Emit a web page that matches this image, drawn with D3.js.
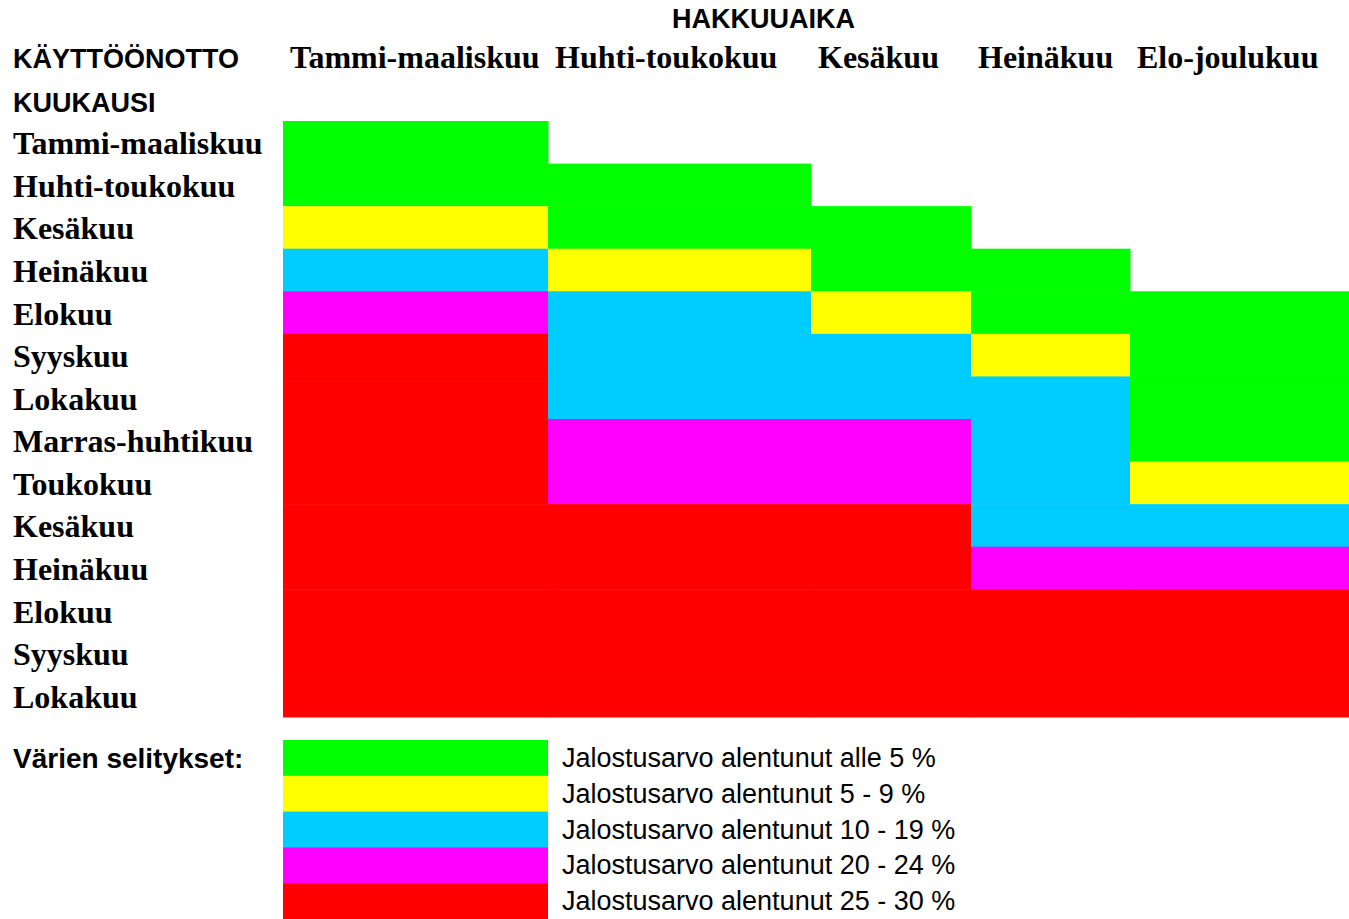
<!DOCTYPE html>
<html>
<head>
<meta charset="utf-8">
<script src="https://cdn.jsdelivr.net/npm/d3@7"></script>
<style>
  body { margin: 0; background: #fff; }
  .head { font-family: "Liberation Sans", Arial, sans-serif; font-weight: bold; font-size: 27px; }
  .lab { font-family: "Liberation Serif", "Times New Roman", serif; font-weight: bold; font-size: 32px; }
  .leg { font-family: "Liberation Sans", Arial, sans-serif; font-size: 27px; }
</style>
</head>
<body>
<div class="chart"></div>
<script>
var width = 1349
var height = 919

// harvest time (columns)
var harvestCols = ["Tammi-maaliskuu", "Huhti-toukokuu", "Kesäkuu", "Heinäkuu", "Elo-joulukuu"];

// deployment month (rows)
var deployRows = ["Tammi-maaliskuu", "Huhti-toukokuu", "Kesäkuu", "Heinäkuu", "Elokuu", "Syyskuu",
  "Lokakuu", "Marras-huhtikuu", "Toukokuu", "Kesäkuu", "Heinäkuu", "Elokuu", "Syyskuu", "Lokakuu"];

// class index per row for each harvest column (null = empty)
var colTammi = [0, 0, 1, 2, 3, 4, 4, 4, 4, 4, 4, 4, 4, 4];
var colHuhti = [null, 0, 0, 1, 2, 2, 2, 3, 3, 4, 4, 4, 4, 4];
var colKesa = [null, null, 0, 0, 1, 2, 2, 3, 3, 4, 4, 4, 4, 4];
var colHeina = [null, null, null, 0, 0, 1, 2, 2, 2, 2, 3, 4, 4, 4];
var colElo = [null, null, null, null, 0, 0, 0, 0, 1, 2, 3, 4, 4, 4];

var legendLabels = ["Jalostusarvo alentunut alle 5 %", "Jalostusarvo alentunut 5 - 9 %",
  "Jalostusarvo alentunut 10 - 19 %", "Jalostusarvo alentunut 20 - 24 %",
  "Jalostusarvo alentunut 25 - 30 %"];
var classColors = ["#00ff00", "#ffff00", "#00ccff", "#ff00ff", "#ff0000"];

var columns = [colTammi, colHuhti, colKesa, colHeina, colElo];
var cells = [];
columns.forEach(function(col, ci) {
  col.forEach(function(v, ri) {
    if (v !== null) cells.push({ col: harvestCols[ci], row: ri, cls: v });
  });
});

var colEdges = [283, 548, 811, 971, 1130, 1349];
var x = d3.scaleOrdinal().domain(harvestCols).range(colEdges.slice(0, 5));
var xEnd = d3.scaleOrdinal().domain(harvestCols).range(colEdges.slice(1));
var y = d3.scaleBand().domain(d3.range(deployRows.length)).range([121, 717]);
var color = d3.scaleOrdinal().domain(d3.range(5)).range(classColors);
var yLeg = d3.scaleBand().domain(legendLabels).range([740, 919]);

var svg = d3.select(".chart").append("svg")
  .attr("width", width)
  .attr("height", height);

svg.selectAll("rect.cell")
  .data(cells)
  .enter()
  .append("rect")
  .attr("class", "cell")
  .attr("x", function(d) { return x(d.col); })
  .attr("y", function(d) { return y(d.row); })
  .attr("width", function(d) { return xEnd(d.col) - x(d.col) + 0.5; })
  .attr("height", y.bandwidth() + 0.5)
  .attr("fill", function(d) { return color(d.cls); });

// headers
svg.append("text").attr("class", "head").attr("x", 672).attr("y", 28).text("HAKKUUAIKA");
svg.append("text").attr("class", "head").attr("x", 13).attr("y", 68).text("KÄYTTÖÖNOTTO");
svg.append("text").attr("class", "head").attr("x", 13).attr("y", 112).text("KUUKAUSI");

svg.selectAll("text.colLab")
  .data(harvestCols)
  .enter()
  .append("text")
  .attr("class", "lab colLab")
  .attr("x", function(d) { return x(d) + 7; })
  .attr("y", 68)
  .text(function(d) { return d; });

svg.selectAll("text.rowLab")
  .data(deployRows)
  .enter()
  .append("text")
  .attr("class", "lab rowLab")
  .attr("x", 13)
  .attr("y", function(d, i) { return y(i) + y.bandwidth() / 2 + 12; })
  .text(function(d) { return d; });

// legend
svg.append("text").attr("class", "head").attr("x", 13).attr("y", 768)
  .style("font-size", "28px").text("Värien selitykset:");

svg.selectAll("rect.legBox")
  .data(legendLabels)
  .enter()
  .append("rect")
  .attr("class", "legBox")
  .attr("x", 283)
  .attr("y", function(d) { return yLeg(d); })
  .attr("width", 265)
  .attr("height", yLeg.bandwidth() + 0.5)
  .attr("fill", function(d, i) { return color(i); });

svg.selectAll("text.legLab")
  .data(legendLabels)
  .enter()
  .append("text")
  .attr("class", "leg legLab")
  .attr("x", 562)
  .attr("y", function(d) { return yLeg(d) + yLeg.bandwidth() / 2 + 9; })
  .text(function(d) { return d; });
</script>
</body>
</html>
